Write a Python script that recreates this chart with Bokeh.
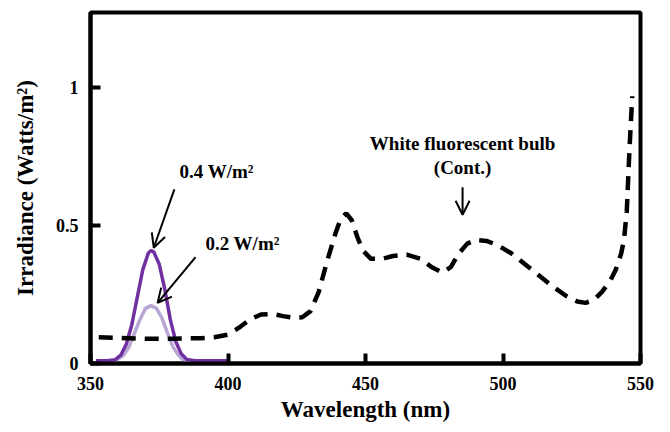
from bokeh.plotting import figure
from bokeh.models import Range1d, FixedTicker, Arrow, OpenHead, Label
from bokeh.embed import file_html
from bokeh.resources import INLINE

# Fluorescent bulb spectrum (dashed)
bulb_x = [353, 360, 370, 380, 390, 395, 400, 404, 408, 412, 416, 420, 424, 427, 430,
          433, 436, 439, 441, 443, 445, 447, 449, 452, 456, 460, 465, 470, 474, 478,
          481, 484, 487, 490, 494, 498, 503, 508, 513, 518, 523, 527, 530, 533, 536,
          539, 541, 543, 544, 545, 546, 547]
bulb_y = [0.095, 0.093, 0.09, 0.09, 0.092, 0.095, 0.105, 0.13, 0.16, 0.178, 0.18, 0.172,
          0.166, 0.168, 0.19, 0.26, 0.37, 0.47, 0.525, 0.545, 0.52, 0.46, 0.41, 0.38,
          0.38, 0.39, 0.395, 0.38, 0.35, 0.33, 0.35, 0.40, 0.435, 0.448, 0.445, 0.43,
          0.40, 0.36, 0.32, 0.28, 0.245, 0.225, 0.22, 0.23, 0.26, 0.30, 0.34, 0.40,
          0.45, 0.55, 0.78, 0.97]

# 0.4 W/m2 UV LED
uv4_x = [352, 356, 359, 361, 363, 365, 367, 369, 371, 372, 373, 375, 377, 379, 381,
         383, 385, 388, 393, 400]
uv4_y = [0.01, 0.01, 0.014, 0.03, 0.07, 0.14, 0.24, 0.34, 0.40, 0.41, 0.405, 0.36,
         0.27, 0.16, 0.08, 0.035, 0.015, 0.01, 0.01, 0.01]

# 0.2 W/m2 UV LED
uv2_x = [352, 356, 359, 362, 364, 366, 368, 370, 372, 374, 376, 378, 380, 382, 384, 386]
uv2_y = [0.0, 0.003, 0.01, 0.03, 0.06, 0.11, 0.16, 0.2, 0.21, 0.2, 0.165, 0.11, 0.06,
         0.03, 0.01, 0.003]

x_ticks = [350, 400, 450, 500, 550]
y_ticks = [0, 0.5, 1]
y_tick_labels = {0: "0", 0.5: "0.5", 1: "1"}

FONT = "Liberation Serif"

p = figure(width=654, height=424, output_backend="svg", toolbar_location=None,
           x_range=Range1d(350, 550), y_range=Range1d(0, 1.274),
           min_border_left=90, min_border_right=14, min_border_top=12, min_border_bottom=59)
p.grid.visible = False
p.outline_line_color = "black"
p.outline_line_width = 4
p.background_fill_color = "white"
p.border_fill_color = "white"

for ax in (p.xaxis[0], p.yaxis[0]):
    ax.axis_line_width = 4
    ax.axis_line_color = "black"
    ax.major_tick_in = 10
    ax.major_tick_out = 0
    ax.major_tick_line_width = 4
    ax.minor_tick_line_color = None
    ax.major_label_text_font = FONT
    ax.major_label_text_font_style = "bold"
    ax.major_label_text_font_size = "18px"
    ax.major_label_text_color = "black"
    ax.axis_label_text_font = FONT
    ax.axis_label_text_font_style = "bold"
    ax.axis_label_text_font_size = "23px"
    ax.axis_label_text_color = "black"

p.xaxis.ticker = FixedTicker(ticks=x_ticks)
p.yaxis.ticker = FixedTicker(ticks=y_ticks)
p.yaxis.major_label_overrides = y_tick_labels
p.xaxis.major_label_standoff = 13
p.yaxis.major_label_standoff = 12
p.xaxis.axis_label = "Wavelength (nm)"
p.yaxis.axis_label = "Irradiance (Watts/m²)"
p.xaxis.axis_label_standoff = 4
p.yaxis.axis_label_standoff = 15

p.line(uv2_x, uv2_y, line_color="#B8A6D4", line_width=3.5)
p.line(uv4_x, uv4_y, line_color="#7030A0", line_width=3.5)
p.line(bulb_x, bulb_y, line_color="black", line_width=4.5, line_dash="14 9")

def arrow(x0, y0, x1, y1):
    p.add_layout(Arrow(x_start=x0, y_start=y0, x_end=x1, y_end=y1,
                       line_width=2, line_color="black",
                       end=OpenHead(size=14, line_width=2, line_color="black")))

arrow(380.5, 0.632, 373.0, 0.42)
arrow(388.2, 0.386, 374.4, 0.22)
arrow(485.3, 0.64, 485.3, 0.54)

def label(x, y, t, align="left"):
    p.add_layout(Label(x=x, y=y, text=t, text_font=FONT, text_font_style="bold",
                       text_font_size="19px", text_align=align, text_baseline="middle",
                       text_color="black"))

label(382.4, 0.697, "0.4 W/m²")
label(391.8, 0.437, "0.2 W/m²")
label(485.3, 0.798, "White fluorescent bulb", "center")
label(485.3, 0.711, "(Cont.)", "center")

open("out.html", "w").write(file_html(p, INLINE))
